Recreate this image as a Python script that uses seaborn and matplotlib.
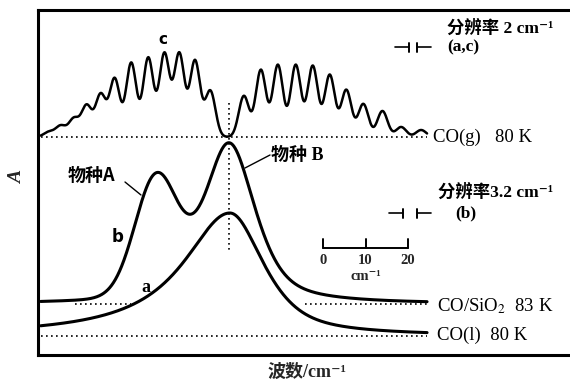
import numpy as np
import pandas as pd
import matplotlib
matplotlib.use("Agg")
import matplotlib.pyplot as plt
import seaborn as sns

# ---------------------------------------------------------------
# Data (wavenumber offset from the band centre in cm^-1, absorbance in a.u.)
# ---------------------------------------------------------------
# c: CO(g) 80 K rotational lines (P branch left, R branch right)
p_branch_pos = [-42.4, -39.6, -36.5, -33.5, -30.2, -26.9, -23.0, -19.0, -15.2, -11.7, -8.0, -4.4]
p_branch_amp = [0.05, 0.11, 0.18, 0.31, 0.42, 0.58, 0.74, 0.79, 0.83, 0.83, 0.76, 0.46]
r_branch_pos = [3.5, 7.5, 11.5, 15.7, 19.7, 23.7, 27.6, 31.6, 36.1, 40.5, 45.2]
r_branch_amp = [0.41, 0.67, 0.72, 0.72, 0.71, 0.62, 0.47, 0.33, 0.26, 0.10, 0.07]
gas_line_sigma = 1.2
gas_offset = 2.18

# b: CO/SiO2 83 K, two adsorbed species
b_offset = 0.51
species_a = dict(centre=-17.2, amp=1.15, sigma=4.94)
species_b = dict(centre=0.0, amp=1.61, hw_left=7.3, hw_right=7.3, eta_left=0.6, eta_right=0.6)

# a: CO(l) 80 K
a_offset = 0.19
liquid = dict(centre=0.2, amp=1.23, hw_left=13.4, hw_right=9.4, eta_left=1.0, eta_right=0.7)

span = (-44.3, 46.6)
resolution_ac = 2.0
resolution_b = 3.2
scale_ticks = [0, 10, 20]


def gauss(x, c, s):
    return np.exp(-0.5 * ((x - c) / s) ** 2)


def pseudo_voigt(x, centre, amp, hw_left, hw_right, eta_left, eta_right):
    left = x < centre
    hw = np.where(left, hw_left, hw_right)
    eta = np.where(left, eta_left, eta_right)
    u = (x - centre) / hw
    return amp * (eta / (1 + u ** 2) + (1 - eta) * np.exp(-np.log(2) * u ** 2))


x = np.linspace(span[0], span[1], 1500)
gas = gas_offset + sum(h * gauss(x, c, gas_line_sigma)
                       for c, h in zip(p_branch_pos + r_branch_pos, p_branch_amp + r_branch_amp))
sio2 = (b_offset
        + species_a["amp"] * gauss(x, species_a["centre"], species_a["sigma"])
        + pseudo_voigt(x, **species_b))
liq = a_offset + pseudo_voigt(x, **liquid)

df = pd.concat([
    pd.DataFrame({"wn": x, "A": gas, "trace": "c"}),
    pd.DataFrame({"wn": x, "A": sio2, "trace": "b"}),
    pd.DataFrame({"wn": x, "A": liq, "trace": "a"}),
])

# ---------------------------------------------------------------
sns.set_style("white")
plt.rcParams["font.family"] = ["Liberation Serif", "Noto Sans CJK SC", "DejaVu Serif"]
plt.rcParams["mathtext.fontset"] = "stix"

W, H = 570, 385
fig = plt.figure(figsize=(W / 100, H / 100), dpi=100)
ax = fig.add_axes([38 / W, (H - 355) / H, (W - 38) / W, (355 - 10) / H])

PX = 4.25  # pixels per cm^-1


def px2x(px):
    return (px - 229) / PX


def py2y(py):
    return (355 - py) / 100


ax.set_xlim(px2x(38), px2x(W))
ax.set_ylim(0, py2y(10))

sns.lineplot(data=df[df.trace == "c"], x="wn", y="A", color="black", lw=1.8, ax=ax,
             estimator=None, sort=False)
sns.lineplot(data=df[df.trace == "b"], x="wn", y="A", color="black", lw=2.2, ax=ax,
             estimator=None, sort=False)
sns.lineplot(data=df[df.trace == "a"], x="wn", y="A", color="black", lw=2.2, ax=ax,
             estimator=None, sort=False)

dot = dict(color="black", lw=1.2, ls=(0, (1, 2)))
ax.plot(span, [gas_offset] * 2, **dot)
ax.plot(span, [a_offset] * 2, **dot)
ax.plot([px2x(75), px2x(131)], [b_offset] * 2, **dot)
ax.plot([px2x(305), span[1]], [b_offset] * 2, **dot)
ax.plot([0, 0], [py2y(103), py2y(252)], **dot)

# spines
for s in ["left", "top", "bottom"]:
    ax.spines[s].set_visible(True)
    ax.spines[s].set_color("black")
    ax.spines[s].set_linewidth(2.2)
ax.spines["right"].set_visible(False)
ax.set_xticks([])
ax.set_yticks([])
ax.set_xlabel("")
ax.set_ylabel("")


# resolution markers
def res_marker(xc, yc, gap):
    y = py2y(yc)
    h = 0.045
    ax.plot([xc - gap / 2 - 3.3, xc - gap / 2], [y, y], color="black", lw=1.2)
    ax.plot([xc + gap / 2, xc + gap / 2 + 3.3], [y, y], color="black", lw=1.2)
    ax.plot([xc - gap / 2] * 2, [y - h, y + h], color="black", lw=1.4)
    ax.plot([xc + gap / 2] * 2, [y - h, y + h], color="black", lw=1.4)


res_marker(px2x(413), 47, resolution_ac)
res_marker(px2x(410), 213, resolution_b)

# scale bar
x0 = px2x(323)
yb, yt = py2y(248), py2y(239)
ax.plot([x0 + scale_ticks[0], x0 + scale_ticks[-1]], [yb, yb], color="black", lw=1.4)
for t in scale_ticks:
    ax.plot([x0 + t, x0 + t], [yb, yt], color="black", lw=1.4)
    ax.text(x0 + t, py2y(260), str(t), ha="center", va="center", fontsize=10.5, fontweight="bold")
ax.text(x0 + 10, py2y(277), "cm⁻¹", ha="center", va="center", fontsize=10.5, fontweight="bold")

# labels
txt = dict(color="black", clip_on=False)
ax.text(px2x(163), py2y(39), "c", ha="center", va="center", fontsize=11, fontweight="bold",
        family="DejaVu Sans", **txt)
ax.text(px2x(118), py2y(237), "b", ha="center", va="center", fontsize=12, fontweight="bold",
        family="DejaVu Sans", **txt)
ax.text(px2x(146), py2y(288), "a", ha="center", va="center", fontsize=13, fontweight="bold", **txt)

ax.text(px2x(91), py2y(175), "物种A", ha="center", va="center", fontsize=13, fontweight="bold",
        family=["Noto Sans CJK SC"], **txt)
ax.plot([px2x(125), px2x(141)], [py2y(182), py2y(195)], color="black", lw=1.0)
ax.text(px2x(271), py2y(155), "物种 B", ha="left", va="center", fontsize=13, fontweight="bold", **txt)
ax.plot([px2x(270), px2x(245)], [py2y(155), py2y(168)], color="black", lw=1.0)

ax.text(px2x(447), py2y(28), "分辨率 2 cm⁻¹", ha="left", va="center", fontsize=12.5,
        fontweight="bold", **txt)
ax.text(px2x(447), py2y(47), "(a,c)", ha="left", va="center", fontsize=12.5, fontweight="bold", **txt)
ax.text(px2x(438), py2y(192), "分辨率3.2 cm⁻¹", ha="left", va="center", fontsize=12.5,
        fontweight="bold", **txt)
ax.text(px2x(455), py2y(213), "(b)", ha="left", va="center", fontsize=12.5, fontweight="bold", **txt)

ax.text(px2x(433), py2y(137), "CO(g)   80 K", ha="left", va="center", fontsize=13.5, **txt)
ax.text(px2x(437), py2y(306), "CO/SiO$_2$  83 K", ha="left", va="center", fontsize=13.5, **txt)
ax.text(px2x(437), py2y(335), "CO(l)  80 K", ha="left", va="center", fontsize=13.5, **txt)

fig.text(18 / W, 1 - 178 / H, "A", rotation=90, ha="center", va="center", fontsize=14,
         fontweight="bold", style="italic")
fig.text(307 / W, 1 - 372 / H, "波数/cm⁻¹", ha="center", va="center", fontsize=13,
         fontweight="bold")

fig.savefig("out.png", dpi=100, facecolor="white")
